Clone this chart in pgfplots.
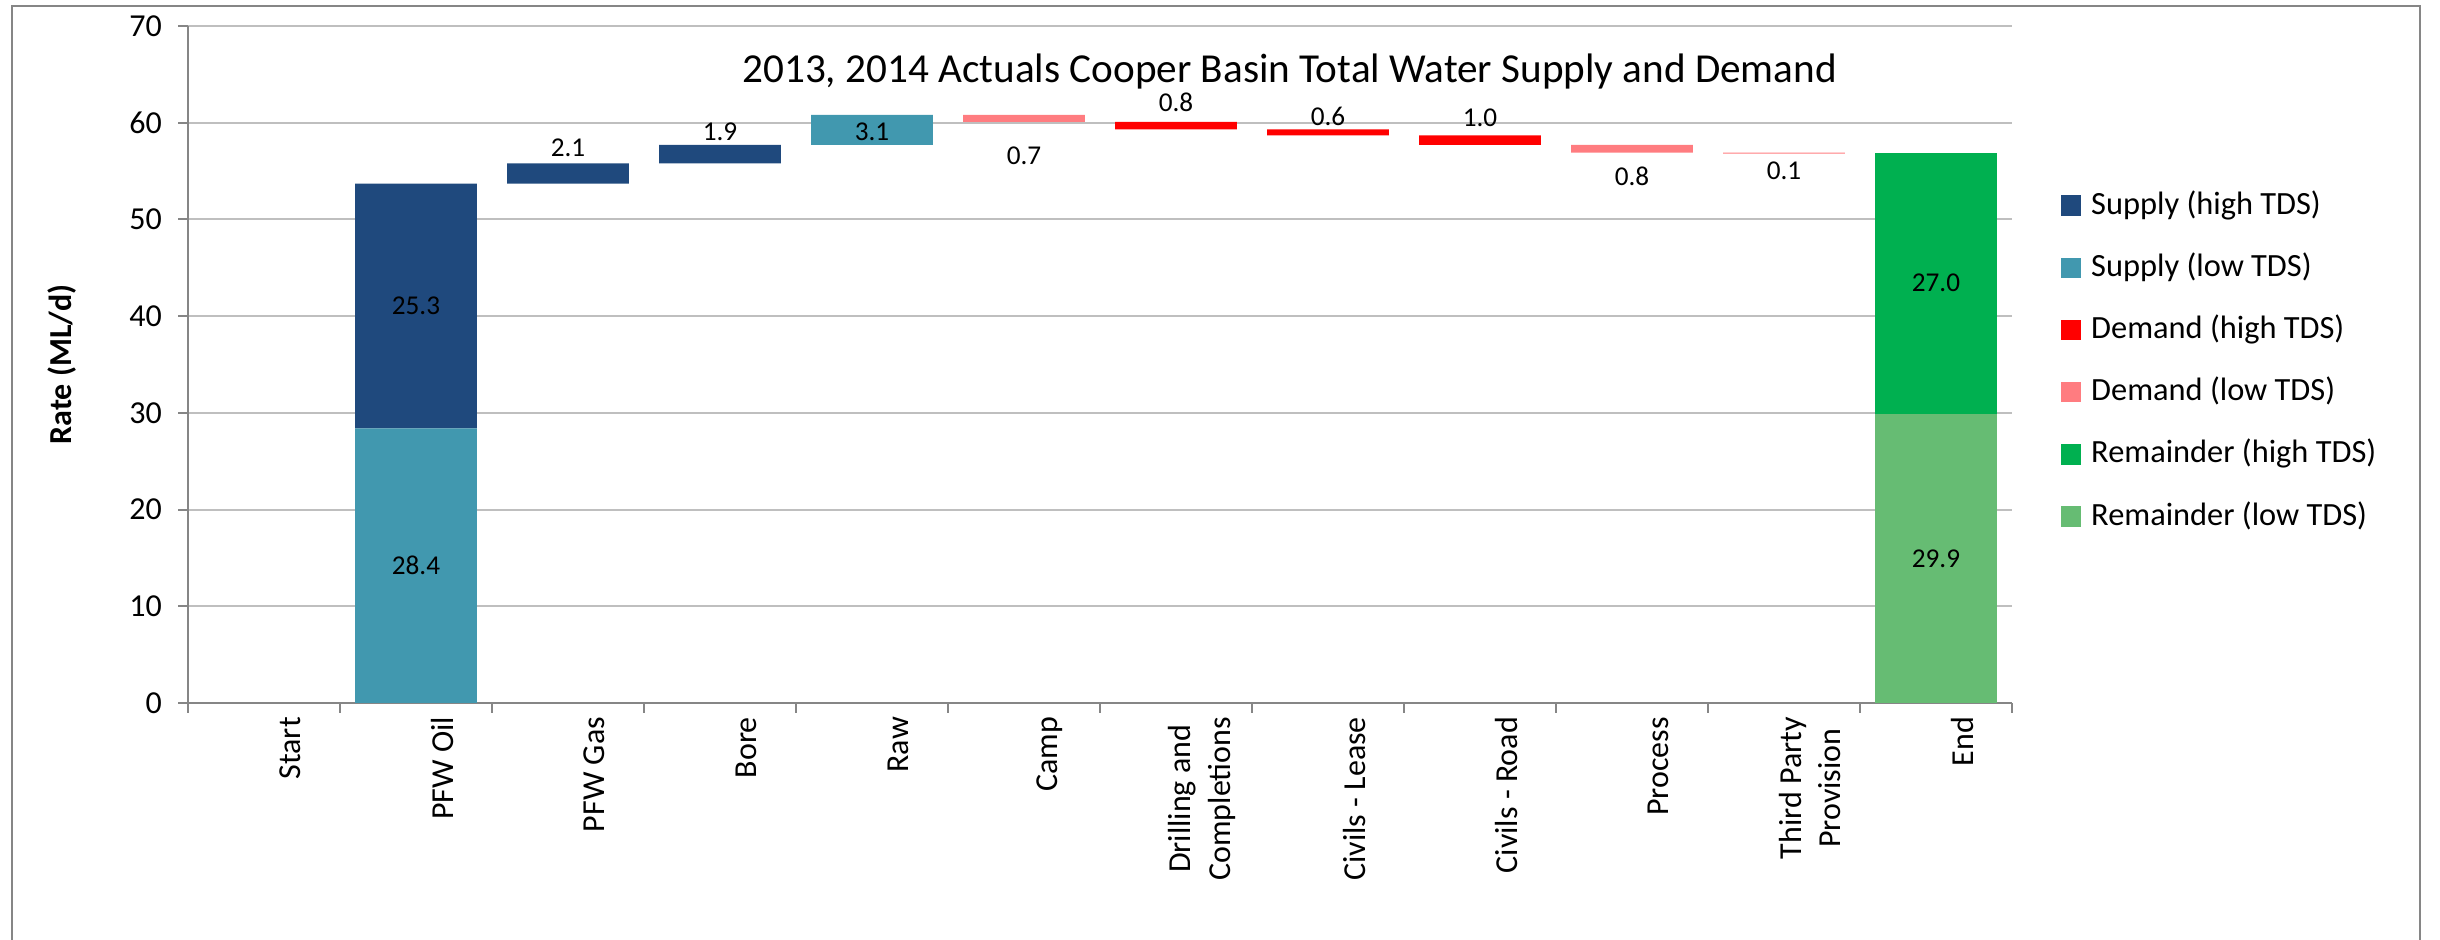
\documentclass[border=0pt]{standalone}
\usepackage{pgfplots}
\pgfplotsset{compat=1.18}
\usepackage{pgfplotstable}
\usepackage{fontspec}
\setmainfont{Carlito}

\definecolor{supH}{HTML}{1F497D}
\definecolor{supL}{HTML}{4198AF}
\definecolor{demH}{HTML}{FF0000}
\definecolor{demL}{HTML}{FF7C80}
\definecolor{remH}{HTML}{00B050}
\definecolor{remL}{HTML}{66BC73}
\definecolor{gridc}{HTML}{BFBFBF}
\definecolor{axisc}{HTML}{868686}

% waterfall: invisible base + stacked segments
\pgfplotstableread{
x base supL supH demH demL remL remH
0  0    0    0    0   0   0    0
1  0    28.4 25.3 0   0   0    0
2  53.7 0    2.1  0   0   0    0
3  55.8 0    1.9  0   0   0    0
4  57.7 3.1  0    0   0   0    0
5  60.1 0    0    0   0.7 0    0
6  59.3 0    0    0.8 0   0    0
7  58.7 0    0    0.6 0   0    0
8  57.7 0    0    1.0 0   0    0
9  56.9 0    0    0   0.8 0    0
10 56.8 0    0    0   0.1 0    0
11 0    0    0    0   0   29.9 27.0
}\flowtab

\pgfplotstableread{
x y label
1 14.2 28.4
1 41.05 25.3
2 57.4 2.1
3 59.1 1.9
4 59.1 3.1
5 56.55 0.7
6 62.1 0.8
7 60.7 0.6
8 60.5 1.0
9 54.5 0.8
10 55.0 0.1
11 14.95 29.9
11 43.4 27.0
}\labtab

\begin{document}
\begin{tikzpicture}
\useasboundingbox (0,0) rectangle (610pt,235pt);
\pgfplotsset{wfaxis/.style={
  scale only axis, width=456pt, height=169.25pt,
  xmin=-0.5, xmax=11.5, ymin=0, ymax=70,
  at={(47pt,59.25pt)}, anchor=south west}}

\begin{axis}[wfaxis,
  ybar stacked, bar width=0.8,
  axis x line*=bottom, axis y line*=left,
  axis line style={axisc, line width=0.5pt},
  ytick={0,10,...,70},
  ymajorgrids, grid style={gridc, line width=0.5pt},
  tick align=outside, major tick length=2.5pt,
  tick style={axisc, line width=0.5pt},
  yticklabel style={font=\fontsize{8}{9}\selectfont, xshift=-0.5pt},
  /pgf/number format/assume math mode=true,
  xtick={-0.5,0.5,...,11.5}, xticklabels={},
  extra x ticks={0,...,11},
  extra x tick labels={Start, PFW Oil, PFW Gas, Bore, Raw, Camp,
    {Drilling and\\Completions}, Civils - Lease, Civils - Road, Process,
    {Third Party\\Provision}, End},
  extra x tick style={major tick length=0pt, grid=none,
    xticklabel style={rotate=90, anchor=east, align=center,
      font=\fontsize{8}{9.8}\selectfont, yshift=-6.5pt}},
  ylabel={\textbf{Rate (ML/d)}},
  ylabel style={at={(axis description cs:-0.069,0.5)}, anchor=center,
    font=\fontsize{8}{9}\selectfont},
  title={2013, 2014 Actuals Cooper Basin Total Water Supply and Demand},
  title style={at={(0.604,0.897)}, anchor=center, font=\fontsize{10.3}{12}\selectfont},
  legend style={at={(1,1)}, anchor=north west, xshift=12pt, yshift=-40pt,
    draw=none, inner sep=0pt, row sep=6.15pt, column sep=1.5pt,
    font=\fontsize{8.1}{9}\selectfont,
    nodes={inner sep=1pt, text height=5.8pt, text depth=1.6pt, anchor=west}},
  legend cell align=left,
  legend image code/.code={\fill[#1] (0pt,-2.35pt) rectangle (4.7pt,2.35pt);},
]
\addplot[fill=none, draw=none, forget plot] table[x=x, y=base] {\flowtab};
\addplot[fill=supL, draw=none, forget plot] table[x=x, y=supL] {\flowtab};
\addplot[fill=supH, draw=none, forget plot] table[x=x, y=supH] {\flowtab};
\addplot[fill=demH, draw=none, forget plot] table[x=x, y=demH] {\flowtab};
\addplot[fill=demL, draw=none, forget plot] table[x=x, y=demL] {\flowtab};
\addplot[fill=remL, draw=none, forget plot] table[x=x, y=remL] {\flowtab};
\addplot[fill=remH, draw=none, forget plot] table[x=x, y=remH] {\flowtab};
\addlegendimage{supH}\addlegendentry{Supply (high TDS)}
\addlegendimage{supL}\addlegendentry{Supply (low TDS)}
\addlegendimage{demH}\addlegendentry{Demand (high TDS)}
\addlegendimage{demL}\addlegendentry{Demand (low TDS)}
\addlegendimage{remH}\addlegendentry{Remainder (high TDS)}
\addlegendimage{remL}\addlegendentry{Remainder (low TDS)}
\end{axis}

\begin{axis}[wfaxis, hide axis]
\addplot[draw=none, nodes near coords, point meta=explicit symbolic,
  nodes near coords style={anchor=center, font=\fontsize{6.8}{8}\selectfont, text=black}]
  table[x=x, y=y, meta=label] {\labtab};
\end{axis}

\draw[axisc, line width=0.6pt] (3pt,-5pt) rectangle (605pt,233.5pt);
\end{tikzpicture}
\end{document}
